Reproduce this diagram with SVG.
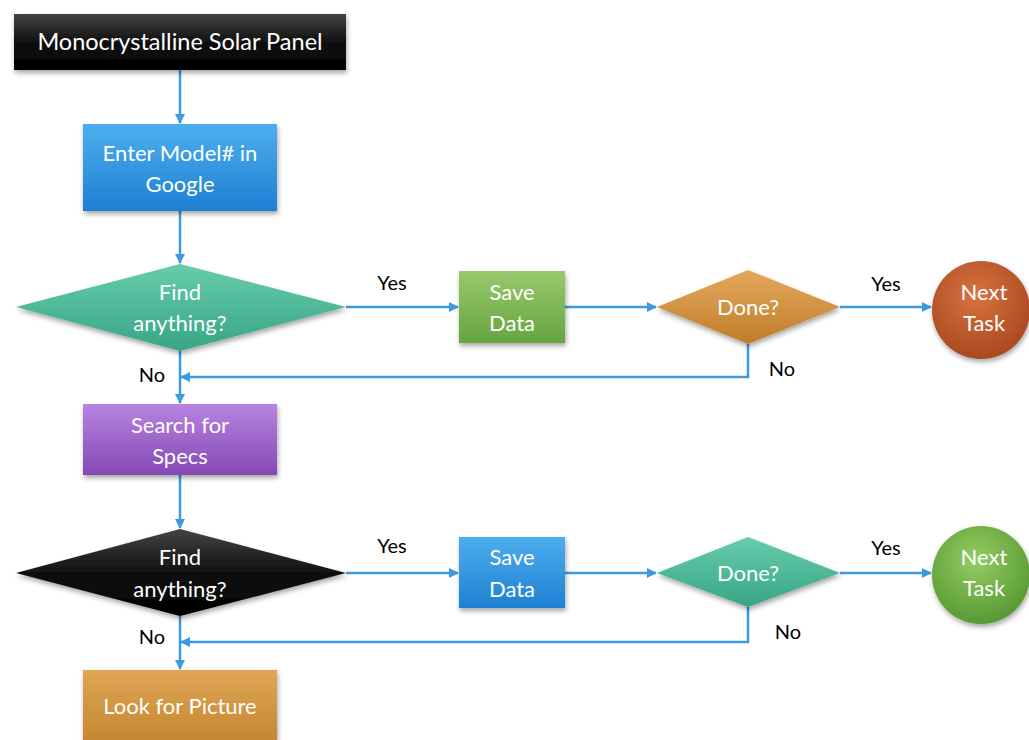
<svg xmlns="http://www.w3.org/2000/svg" width="1029" height="740" viewBox="0 0 1029 740">
<style>
.nt{font-family:"Lato","Open Sans","Liberation Sans",sans-serif;font-size:22px;fill:#ffffff;text-anchor:middle}
.lb{font-family:"Lato","Open Sans","Liberation Sans",sans-serif;font-size:20px;fill:#000000;text-anchor:middle}
.cn{fill:none;stroke:#3b9ae0;stroke-width:2.5}
</style>
<defs>
<filter id="sh" x="-10%" y="-10%" width="125%" height="130%">
<feDropShadow dx="1" dy="3" stdDeviation="2.5" flood-color="#000" flood-opacity="0.35"/>
</filter>
<linearGradient id="gBlack" x1="0" y1="0" x2="0" y2="1"><stop offset="0" stop-color="#444"/><stop offset="0.5" stop-color="#111"/><stop offset="1" stop-color="#000"/></linearGradient>
<linearGradient id="gBlue" x1="0" y1="0" x2="0" y2="1"><stop offset="0" stop-color="#4daeee"/><stop offset="1" stop-color="#1e80d2"/></linearGradient>
<linearGradient id="gTeal" x1="0" y1="0" x2="0" y2="1"><stop offset="0" stop-color="#66ccac"/><stop offset="1" stop-color="#38a585"/></linearGradient>
<linearGradient id="gGreen" x1="0" y1="0" x2="0" y2="1"><stop offset="0" stop-color="#98c96c"/><stop offset="1" stop-color="#66a540"/></linearGradient>
<linearGradient id="gOrange" x1="0" y1="0" x2="0" y2="1"><stop offset="0" stop-color="#e4a85c"/><stop offset="1" stop-color="#bf7d2a"/></linearGradient>
<linearGradient id="gPurple" x1="0" y1="0" x2="0" y2="1"><stop offset="0" stop-color="#b884e0"/><stop offset="1" stop-color="#8548b5"/></linearGradient>
<linearGradient id="gGold" x1="0" y1="0" x2="0" y2="1"><stop offset="0" stop-color="#e0a656"/><stop offset="1" stop-color="#c4862e"/></linearGradient>
<radialGradient id="gRed" cx="0.45" cy="0.35" r="0.7"><stop offset="0" stop-color="#d9733f"/><stop offset="1" stop-color="#a5461f"/></radialGradient>
<radialGradient id="gLime" cx="0.45" cy="0.35" r="0.7"><stop offset="0" stop-color="#94cc62"/><stop offset="1" stop-color="#549530"/></radialGradient>
<marker id="ar" viewBox="0 0 10 10" refX="9" refY="5" markerWidth="4" markerHeight="4" orient="auto" markerUnits="strokeWidth">
<path d="M0,0 L10,5 L0,10 z" fill="#3b9ae0"/>
</marker>
</defs>

<g id="connectors">
<line class="cn" x1="180" y1="70" x2="180" y2="123" marker-end="url(#ar)"/>
<line class="cn" x1="180" y1="211" x2="180" y2="263" marker-end="url(#ar)"/>
<line class="cn" x1="346" y1="307" x2="458" y2="307" marker-end="url(#ar)"/>
<line class="cn" x1="565" y1="307" x2="656" y2="307" marker-end="url(#ar)"/>
<line class="cn" x1="840" y1="307" x2="931" y2="307" marker-end="url(#ar)"/>
<polyline class="cn" points="748,344 748,377 181,377" marker-end="url(#ar)"/>
<line class="cn" x1="180" y1="351" x2="180" y2="403" marker-end="url(#ar)"/>
<line class="cn" x1="180" y1="475" x2="180" y2="528" marker-end="url(#ar)"/>
<line class="cn" x1="346" y1="573" x2="458" y2="573" marker-end="url(#ar)"/>
<line class="cn" x1="565" y1="573" x2="656" y2="573" marker-end="url(#ar)"/>
<line class="cn" x1="840" y1="573" x2="931" y2="573" marker-end="url(#ar)"/>
<polyline class="cn" points="748,607 748,642 181,642" marker-end="url(#ar)"/>
<line class="cn" x1="180" y1="616" x2="180" y2="669" marker-end="url(#ar)"/>
<text class="lb" x="392" y="290">Yes</text>
<text class="lb" x="886" y="291">Yes</text>
<text class="lb" x="782" y="376">No</text>
<text class="lb" x="152" y="382">No</text>
<text class="lb" x="392" y="553">Yes</text>
<text class="lb" x="886" y="555">Yes</text>
<text class="lb" x="788" y="639">No</text>
<text class="lb" x="152" y="644">No</text>
</g>

<g id="n-title">
<rect x="14" y="14" width="332" height="56" fill="url(#gBlack)" filter="url(#sh)"/>
<text class="nt" x="180" y="50" style="font-size:23.5px">Monocrystalline Solar Panel</text>
</g>
<g id="n-enter">
<rect x="83" y="124" width="194" height="87" fill="url(#gBlue)" filter="url(#sh)"/>
<text class="nt" x="180" y="161">Enter Model# in</text>
<text class="nt" x="180" y="192">Google</text>
</g>
<g id="n-find1">
<polygon points="180,264 346,307 180,351 16,307" fill="url(#gTeal)" filter="url(#sh)"/>
<text class="nt" x="180" y="300">Find</text>
<text class="nt" x="180" y="331">anything?</text>
</g>
<g id="n-save1">
<rect x="459" y="271" width="106" height="72" fill="url(#gGreen)" filter="url(#sh)"/>
<text class="nt" x="512" y="300">Save</text>
<text class="nt" x="512" y="331">Data</text>
</g>
<g id="n-done1">
<polygon points="748,270 840,307 748,344 657,307" fill="url(#gOrange)" filter="url(#sh)"/>
<text class="nt" x="748" y="315">Done?</text>
</g>
<g id="n-next1">
<circle cx="981" cy="310" r="49" fill="url(#gRed)" filter="url(#sh)"/>
<text class="nt" x="984" y="300">Next</text>
<text class="nt" x="984" y="331">Task</text>
</g>
<g id="n-search">
<rect x="83" y="404" width="194" height="71" fill="url(#gPurple)" filter="url(#sh)"/>
<text class="nt" x="180" y="433">Search for</text>
<text class="nt" x="180" y="464">Specs</text>
</g>
<g id="n-find2">
<polygon points="180,529 346,573 180,616 16,573" fill="url(#gBlack)" filter="url(#sh)"/>
<text class="nt" x="180" y="565">Find</text>
<text class="nt" x="180" y="597">anything?</text>
</g>
<g id="n-save2">
<rect x="459" y="537" width="106" height="71" fill="url(#gBlue)" filter="url(#sh)"/>
<text class="nt" x="512" y="565">Save</text>
<text class="nt" x="512" y="597">Data</text>
</g>
<g id="n-done2">
<polygon points="748,537 840,573 748,607 657,573" fill="url(#gTeal)" filter="url(#sh)"/>
<text class="nt" x="748" y="581">Done?</text>
</g>
<g id="n-next2">
<circle cx="981" cy="575" r="49" fill="url(#gLime)" filter="url(#sh)"/>
<text class="nt" x="984" y="565">Next</text>
<text class="nt" x="984" y="596">Task</text>
</g>
<g id="n-look">
<rect x="83" y="670" width="194" height="74" fill="url(#gGold)" filter="url(#sh)"/>
<text class="nt" x="180" y="714">Look for Picture</text>
</g>
</svg>
